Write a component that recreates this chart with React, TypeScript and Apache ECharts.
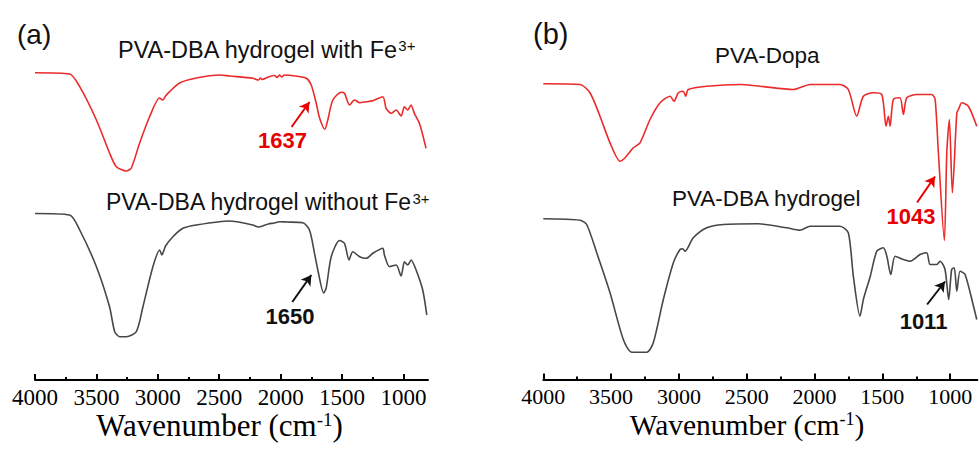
import React, { useEffect, useRef } from "react";
import * as echarts from "echarts";

// Wavenumber (cm^-1) vs offset transmittance (a.u.)
const redA: [number, number][] = [
  [4000, 307.3], [3718, 306], [3636, 293.3], [3500, 260], [3393, 227], [3338, 213.3], [3256, 209],
  [3216, 212], [3148, 237], [3067, 263.3], [2986, 282], [2959, 280], [2937, 284], [2904, 288.3],
  [2823, 297], [2687, 302], [2496, 305], [2416, 304], [2226, 301.7], [2180, 300], [2165, 302],
  [2150, 300.5], [2100, 303], [2050, 304.5], [2030, 302.5], [2010, 305], [1990, 303], [1970, 305],
  [1880, 304], [1791, 301.7], [1751, 295], [1710, 276.7], [1683, 262], [1640, 250.7], [1616, 260],
  [1575, 280], [1507, 287.7], [1480, 286.7], [1439, 275], [1399, 280], [1357, 277.3], [1303, 278.3],
  [1249, 279.3], [1168, 283.3], [1141, 271.7], [1100, 266.7], [1059, 270], [1019, 264], [992, 273.3],
  [965, 270], [938, 275], [911, 266.7], [870, 256.7], [816, 231.7]
];
const grayA: [number, number][] = [
  [4000, 166.5], [3718, 165], [3636, 150], [3500, 113.3], [3393, 73.3], [3351, 48.3], [3311, 43.3],
  [3256, 43.3], [3175, 48.3], [3121, 73.3], [3040, 113.3], [2985, 130], [2967, 125], [2937, 134],
  [2877, 143.3], [2796, 151.7], [2687, 155], [2416, 159], [2226, 155], [2180, 153], [2145, 154],
  [2100, 156], [2050, 157], [2009, 158.3], [1950, 158], [1819, 157.3], [1765, 150], [1724, 126.7],
  [1697, 110], [1650, 87], [1629, 92], [1588, 123.3], [1521, 139.5], [1480, 136.7], [1443, 120],
  [1413, 128.3], [1357, 123.3], [1303, 121.7], [1249, 126.7], [1168, 131.7], [1155, 125], [1114, 113.3],
  [1059, 115], [1019, 104], [992, 118.3], [965, 115], [938, 120], [897, 110], [843, 90], [810, 65]
];
const redB: [number, number][] = [
  [4000, 295.7], [3729, 295], [3656, 286.7], [3582, 263.3], [3508, 236.7], [3434, 218.3], [3397, 221.7],
  [3336, 231.7], [3287, 236.7], [3213, 260], [3139, 276.7], [3065, 283.3], [3036, 278.3], [3004, 286.7],
  [2968, 288.3], [2950, 283.3], [2931, 290], [2795, 293.3], [2549, 295], [2402, 293.3], [2156, 290],
  [2033, 295], [1812, 295], [1751, 290], [1689, 263.3], [1640, 283.3], [1566, 286.7], [1504, 285],
  [1473, 253.3], [1456, 263.3], [1443, 253.3], [1419, 280], [1370, 281.7], [1345, 265], [1320, 281.7],
  [1246, 285], [1136, 285], [1111, 280], [1087, 226.7], [1043, 139], [1025, 226.7], [1006, 260],
  [984, 186.7], [951, 266.7], [939, 270], [914, 276.7], [866, 273.3], [804, 253.3]
];
const grayB: [number, number][] = [
  [4000, 160.7], [3729, 159.3], [3680, 155], [3606, 126.7], [3508, 86.7], [3410, 40], [3348, 27.3],
  [3237, 27.3], [3189, 36.7], [3115, 80], [3041, 116.7], [2992, 130], [2972, 130.7], [2955, 128.3],
  [2894, 141.7], [2795, 151.7], [2673, 155], [2414, 155.7], [2205, 151.7], [2107, 149.3], [2033, 153.3],
  [1812, 153.3], [1751, 146.7], [1714, 103.3], [1665, 63.3], [1640, 80], [1589, 103.3], [1541, 128.3],
  [1493, 131.7], [1467, 123.3], [1438, 105], [1406, 123.3], [1345, 120], [1295, 118.3], [1222, 125],
  [1173, 126.7], [1148, 115], [1099, 115], [1074, 118.3], [1038, 110], [1011, 80], [989, 110],
  [970, 111.7], [951, 88.3], [927, 108.3], [890, 105], [828, 73.3], [804, 60]
];
const majorTicks = [4000, 3500, 3000, 2500, 2000, 1500, 1000];
const minorTicks = [3750, 3250, 2750, 2250, 1750, 1250];
// arrows: [tail, head] in data coordinates
const arrowRedA: [number, number][] = [[1911, 253], [1765, 278]];
const arrowGrayA: [number, number][] = [[1905, 78], [1750, 105]];
const arrowRedB: [number, number][] = [[1244, 177], [1112, 203]];
const arrowGrayB: [number, number][] = [[1170, 75], [1038, 98]];

const RED = "#EC2A2A";
const GRAY = "#474747";
const ANN_RED = "#E60000";
const SANS = "'Liberation Sans', Arial, sans-serif";
const SERIF = "'Liberation Serif', 'Times New Roman', serif";

export default function App() {
  const ref = useRef<HTMLDivElement>(null);
  useEffect(() => {
    if (!ref.current) return;
    const chart = echarts.init(ref.current, null, { renderer: "svg" });
    const mkX = (gi: number, labelSize: number) => [
      {
        type: "value", gridIndex: gi, min: 800, max: 4000, inverse: true,
        axisLine: { show: true, onZero: false, lineStyle: { color: "#000", width: 2 } },
        axisTick: { show: true, inside: true, length: 6, customValues: majorTicks, lineStyle: { color: "#000", width: 2 } },
        axisLabel: {
          show: true, customValues: majorTicks, margin: 9, color: "#000", fontFamily: SERIF, fontSize: labelSize,
          lineHeight: 16, formatter: (v: number) => String(v),
        },
        splitLine: { show: false },
      },
      {
        type: "value", gridIndex: gi, min: 800, max: 4000, inverse: true, position: "bottom",
        axisLine: { show: false, onZero: false },
        axisTick: { show: true, inside: true, length: 3, customValues: minorTicks, lineStyle: { color: "#000", width: 2 } },
        axisLabel: { show: false },
        splitLine: { show: false },
      },
    ];
    const mkY = (gi: number) => ({ type: "value", gridIndex: gi, min: 0, max: 340, show: false });
    const arrow = (a: [number, number][], color: string) => ({
      silent: true, symbol: ["none", "arrow"], symbolSize: [9, 10],
      lineStyle: { color, width: 2, type: "solid" }, label: { show: false },
      data: [[{ coord: a[0] }, { coord: a[1] }]],
    });
    const line = (data: [number, number][], color: string, xi: number, yi: number, arr: [number, number][], arrColor: string) => ({
      type: "line", data, xAxisIndex: xi, yAxisIndex: yi, showSymbol: false, smooth: 0.25,
      lineStyle: { color, width: 1.6 }, markLine: arrow(arr, arrColor),
    });
    const rich = (size: number, supSize: number) => ({
      n: { fontSize: size, fontFamily: SANS, fill: "#111", color: "#111" },
      s: { fontSize: supSize, fontFamily: SANS, verticalAlign: "top", fill: "#111", color: "#111" },
    });
    const txt = (text: string, x: number, y: number, size: number, color: string, bold = false, align = "left") => ({
      type: "text", x, y,
      style: { text, fill: color, font: `${bold ? "bold " : ""}${size}px ${SANS}`, textAlign: align, textVerticalAlign: "middle" },
    });
    const titleRich = (size: number, supSize: number) => ({
      n: { fontSize: size, fontFamily: SERIF, fill: "#000", color: "#000", lineHeight: 30 },
      s: { fontSize: supSize, fontFamily: SERIF, verticalAlign: "top", fill: "#000", color: "#000", lineHeight: 8 },
    });
    chart.setOption({
      animation: false,
      backgroundColor: "#fff",
      grid: [
        { left: 35, width: 393, top: 40, height: 340 },
        { left: 543.3, width: 434, top: 39.5, height: 340 },
      ],
      xAxis: [...mkX(0, 23), ...mkX(1, 22)],
      yAxis: [mkY(0), mkY(1)],
      series: [
        line(redA, RED, 0, 0, arrowRedA, ANN_RED),
        line(grayA, GRAY, 0, 0, arrowGrayA, "#111"),
        line(redB, RED, 2, 1, arrowRedB, ANN_RED),
        line(grayB, GRAY, 2, 1, arrowGrayB, "#111"),
      ],
      graphic: [
        txt("(a)", 17, 34, 28, "#111"),
        txt("(b)", 533, 34, 29, "#111"),
        { type: "text", x: 118, y: 50, style: { text: "{n|PVA-DBA hydrogel with Fe}{s|3+}", rich: rich(23.5, 15), textVerticalAlign: "middle" } },
        { type: "text", x: 106, y: 202, style: { text: "{n|PVA-DBA hydrogel without Fe}{s|3+}", rich: rich(23, 15), textVerticalAlign: "middle" } },
        txt("PVA-Dopa", 715, 55, 22.5, "#111"),
        txt("PVA-DBA hydrogel", 672, 198, 22.5, "#111"),
        txt("1637", 282.5, 140, 22, ANN_RED, true, "center"),
        txt("1650", 290, 316, 22, "#111", true, "center"),
        txt("1043", 911, 216.5, 22, ANN_RED, true, "center"),
        txt("1011", 923.5, 321, 22, "#111", true, "center"),
        { type: "text", x: 219.5, y: 425, style: { text: "{n|Wavenumber (cm}{s|-1}{n|)}", rich: titleRich(31, 19), textAlign: "center", textVerticalAlign: "middle" } },
        { type: "text", x: 747, y: 425, style: { text: "{n|Wavenumber (cm}{s|-1}{n|)}", rich: titleRich(29.5, 18), textAlign: "center", textVerticalAlign: "middle" } },
      ],
    });
    return () => chart.dispose();
  }, []);
  return <div ref={ref} style={{ position: "fixed", left: 0, top: 0, width: 979, height: 450, background: "#fff" }} />;
}
